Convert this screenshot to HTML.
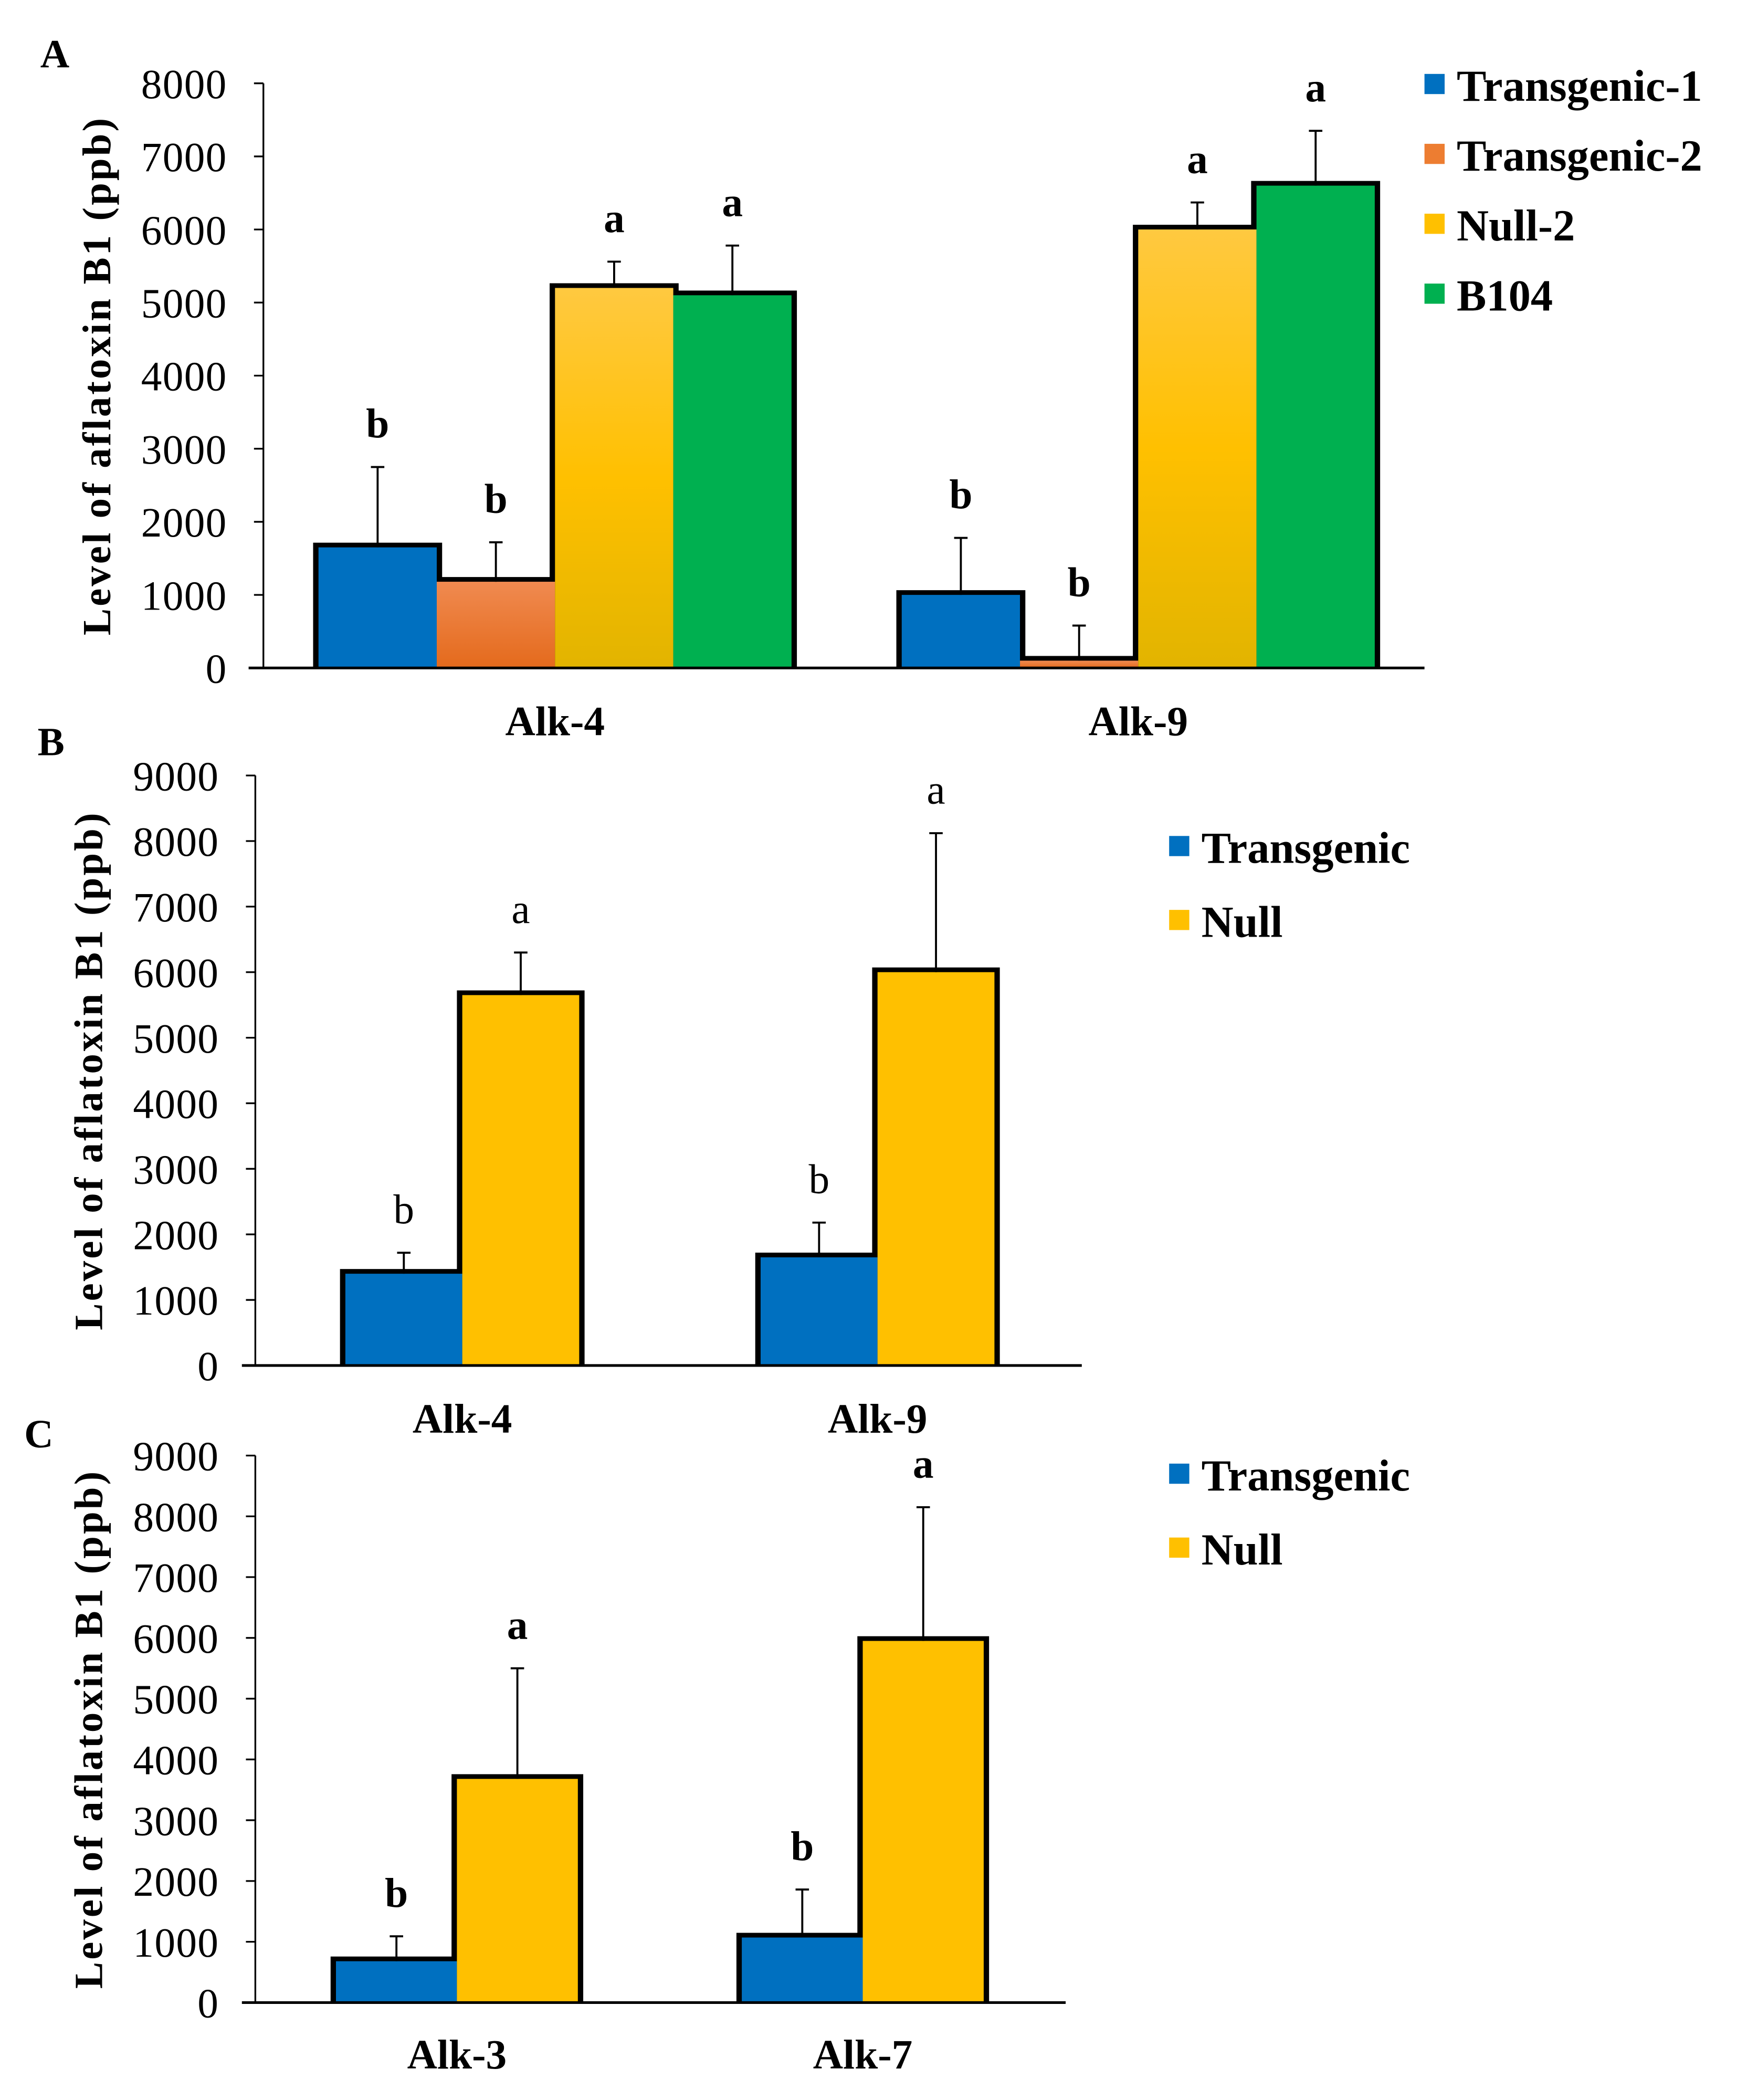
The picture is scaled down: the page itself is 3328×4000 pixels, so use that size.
<!DOCTYPE html>
<html><head><meta charset="utf-8"><style>
html,body{margin:0;padding:0;background:#fff;}
svg{display:block;}
text{font-family:"Liberation Serif",serif;fill:#000;}
</style></head><body>
<svg id="fig" width="3328" height="4000" viewBox="0 0 1300 1562.5" xmlns="http://www.w3.org/2000/svg">
<defs>
<linearGradient id="gYel" x1="0" y1="0" x2="0" y2="1"><stop offset="0" stop-color="#ffc940"/><stop offset="0.5" stop-color="#ffc000"/><stop offset="1" stop-color="#e2b400"/></linearGradient>
<linearGradient id="gOra" x1="0" y1="0" x2="0" y2="1"><stop offset="0" stop-color="#f08a50"/><stop offset="1" stop-color="#e46a1c"/></linearGradient>
</defs>
<g id="root"></g>
</svg>
<script>
// Panel A data
const catsA = ["Alk-4", "Alk-9"];
const seriesA = ["Transgenic-1", "Transgenic-2", "Null-2", "B104"];
const valsA = [[1650, 1180, 5200, 5100], [1000, 100, 6000, 6600]];
const errA = [[2750, 1720, 5560, 5780], [1780, 580, 6370, 7350]];
const letA = [["b", "b", "a", "a"], ["b", "b", "a", "a"]];
const ticksA = [0, 1000, 2000, 3000, 4000, 5000, 6000, 7000, 8000];
// Panel B data
const catsB = ["Alk-4", "Alk-9"];
const seriesB = ["Transgenic", "Null"];
const valsB = [[1400, 5650], [1650, 6000]];
const errB = [[1720, 6300], [2180, 8120]];
const letB = [["b", "a"], ["b", "a"]];
const ticksB = [0, 1000, 2000, 3000, 4000, 5000, 6000, 7000, 8000, 9000];
// Panel C data
const catsC = ["Alk-3", "Alk-7"];
const seriesC = ["Transgenic", "Null"];
const valsC = [[680, 3680], [1070, 5950]];
const errC = [[1090, 5500], [1860, 8150]];
const letC = [["b", "a"], ["b", "a"]];
const ticksC = [0, 1000, 2000, 3000, 4000, 5000, 6000, 7000, 8000, 9000];

const NS = "http://www.w3.org/2000/svg";
const root = document.getElementById("root");
function mk(tag, attrs, parent, txt){
  const e = document.createElementNS(NS, tag);
  for (const k in attrs) e.setAttribute(k, attrs[k]);
  if (txt !== undefined) e.textContent = txt;
  (parent || root).appendChild(e);
  return e;
}

function panel(cfg){
  const g = mk("g", {});
  
  
  const y = v => cfg.y0 - (v / cfg.ymax) * (cfg.y0 - cfg.ytop);
  const pl = mk("text", {x: cfg.letterX, y: cfg.letterY, "font-size": 30, "font-weight": "bold"}, g, cfg.letter);
  
  
  const ya = mk("line", {x1: cfg.ax, y1: cfg.ytop, x2: cfg.ax, y2: cfg.y0, stroke: "#000", "stroke-width": 1.3}, g);
  
  
  cfg.ticks.forEach(t => {
    mk("line", {x1: cfg.ax - 7, y1: y(t), x2: cfg.ax, y2: y(t), stroke: "#000", "stroke-width": 1.3}, g);
    const tl = mk("text", {x: cfg.ax - 27, y: y(t) + 11, "font-size": 31, "text-anchor": "end", "letter-spacing": 0.5}, g, String(t));
    
    
  });
  const ymid = (cfg.ytop + cfg.y0) / 2;
  const yt = mk("text", {x: 0, y: 0, "font-size": 30, "font-weight": "bold", "text-anchor": "middle", "letter-spacing": 1.6, transform: `translate(${cfg.titleX},${ymid}) rotate(-90)`}, g, "Level of aflatoxin B1 (ppb)");
  
  
  cfg.cats.forEach((c, ci) => {
    cfg.vals[ci].forEach((v, si) => {
      const x = cfg.groupX[ci] + si * cfg.bw;
      mk("rect", {x: x - 4, y: y(v) - 3.5, width: cfg.bw + 8, height: cfg.y0 - y(v) + 3.5, fill: "#000"}, g);
    });
  });
  cfg.cats.forEach((c, ci) => {
    cfg.vals[ci].forEach((v, si) => {
      const x = cfg.groupX[ci] + si * cfg.bw;
      const r = mk("rect", {x: x, y: y(v), width: cfg.bw, height: cfg.y0 - y(v), fill: cfg.colors[si]}, g);
      
      
    });
  });
  const xa = mk("line", {x1: cfg.xa1, y1: cfg.y0, x2: cfg.xa2, y2: cfg.y0, stroke: "#000", "stroke-width": 2}, g);
  
  
  cfg.cats.forEach((c, ci) => {
    cfg.vals[ci].forEach((v, si) => {
      const cx = cfg.groupX[ci] + si * cfg.bw + cfg.bw / 2;
      const e = cfg.err[ci][si];
      const eb = mk("path", {d: `M${cx},${y(v)}V${y(e)}M${cx - 5},${y(e)}H${cx + 5}`, stroke: "#000", "stroke-width": 1.5, fill: "none"}, g);
      
      
      const lt = mk("text", {x: cx, y: y(e) - 22, "font-size": 31, "font-weight": cfg.letBold ? "bold" : "normal", "text-anchor": "middle"}, g, cfg.lets[ci][si]);
      
      
    });
    const cl = mk("text", {x: cfg.groupX[ci] + cfg.bw * cfg.vals[ci].length / 2, y: cfg.catY, "font-size": 31, "font-weight": "bold", "text-anchor": "middle"}, g, c);
    
    
  });
  cfg.series.forEach((s, si) => {
    const ly = cfg.legY + si * cfg.legStep;
    const lg = mk("g", {}, g);
    
    
    mk("rect", {x: cfg.legX, y: ly - 9, width: 15, height: 15, fill: cfg.legColors[si]}, lg);
    mk("text", {x: cfg.legX + 24, y: ly + 11, "font-size": 33, "font-weight": "bold"}, lg, s);
  });
}

panel({name: "panel-a", letter: "A", letterX: 30, letterY: 50, ax: 196, xa1: 185, xa2: 1060, y0: 497, ytop: 62, ymax: 8000,
  ticks: ticksA, titleX: 82, cats: catsA, series: seriesA, vals: valsA, err: errA, lets: letA, letBold: true,
  groupX: [237, 671], bw: 88, colors: ["#0070c0", "url(#gOra)", "url(#gYel)", "#00b050"],
  legColors: ["#0070c0", "#ed7d31", "#ffc000", "#00b050"], catY: 547, legX: 1060, legY: 64, legStep: 52});
panel({name: "panel-b", letter: "B", letterX: 28, letterY: 562, ax: 190, xa1: 180, xa2: 805, y0: 1016, ytop: 577, ymax: 9000,
  ticks: ticksB, titleX: 76, cats: catsB, series: seriesB, vals: valsB, err: errB, lets: letB, letBold: false,
  groupX: [257, 566], bw: 87, colors: ["#0070c0", "#ffc000"],
  legColors: ["#0070c0", "#ffc000"], catY: 1066, legX: 870, legY: 631, legStep: 55});
panel({name: "panel-c", letter: "C", letterX: 18, letterY: 1077, ax: 190, xa1: 180, xa2: 793, y0: 1490, ytop: 1083, ymax: 9000,
  ticks: ticksC, titleX: 76, cats: catsC, series: seriesC, vals: valsC, err: errC, lets: letC, letBold: true,
  groupX: [250, 552], bw: 90, colors: ["#0070c0", "#ffc000"],
  legColors: ["#0070c0", "#ffc000"], catY: 1539, legX: 870, legY: 1098, legStep: 55});
</script>
</body></html>
